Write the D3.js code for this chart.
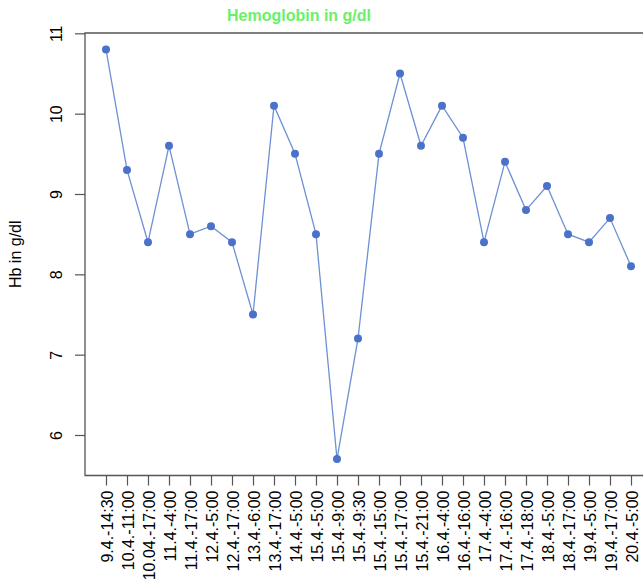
<!DOCTYPE html>
<html>
<head>
<meta charset="utf-8">
<script src="https://cdn.jsdelivr.net/npm/d3@7"></script>
<style>
  body { margin: 0; background: #fff; }
  svg { display: block; font-family: "Liberation Sans", Arial, sans-serif; }
</style>
</head>
<body>
<svg width="643" height="587"></svg>
<script>
var labels = ["9.4.-14:30", "10.4.-11:00", "10.04.-17:00", "11.4.-4:00", "11.4.-17:00",
	"12.4.-5:00", "12.4.-17:00", "13.4.-6:00", "13.4.-17:00", "14.4.-5:00",
	"15.4.-5:00", "15.4.-9:00", "15.4.-9:30", "15.4.-15:00", "15.4.-17:00",
	"15.4.-21:00", "16.4.-4:00", "16.4.-16:00", "17.4.-4:00", "17.4.-16:00",
	"17.4.-18:00", "18.4.-5:00", "18.4.-17:00", "19.4.-5:00", "19.4.-17:00", "20.4.-5:00"];
var hb = [10.8, 9.3, 8.4, 9.6, 8.5, 8.6, 8.4, 7.5, 10.1, 9.5,
	8.5, 5.7, 7.2, 9.5, 10.5, 9.6, 10.1, 9.7, 8.4, 9.4,
	8.8, 9.1, 8.5, 8.4, 8.7, 8.1];
var yTicks = [6, 7, 8, 9, 10, 11];

var svg = d3.select("svg");
var m = { left: 85, right: 652, top: 33, bottom: 475.5 };

// R-style 4% padding on both axes
var n = hb.length;
var x = d3.scaleLinear().domain([1 - 0.04 * (n - 1), n + 0.04 * (n - 1)]).range([m.left, m.right]);
var ext = d3.extent(hb), pad = (ext[1] - ext[0]) * 0.04;
var y = d3.scaleLinear().domain([ext[0] - pad, ext[1] + pad]).range([m.bottom, m.top]);

var data = hb.map(function(v, i) { return { i: i + 1, v: v, label: labels[i] }; });

// frame (right side lies outside the window)
svg.append("path")
	.attr("d", "M" + m.right + "," + m.top + "H" + m.left + "V" + m.bottom + "H" + m.right)
	.attr("fill", "none")
	.attr("stroke", "#555")
	.attr("stroke-width", 1.3);

// y axis
var yAxis = svg.append("g").attr("transform", "translate(" + m.left + ",0)")
	.call(d3.axisLeft(y).tickValues(yTicks).tickSize(10).tickFormat(d3.format("d")));
yAxis.select(".domain").remove();
yAxis.selectAll(".tick line").attr("stroke", "#555").attr("stroke-width", 1.2);
yAxis.selectAll(".tick text")
	.attr("font-size", 16).attr("fill", "#000")
	.attr("text-anchor", "middle")
	.attr("x", 0).attr("y", 0).attr("dy", 0)
	.attr("transform", "translate(-23,0) rotate(-90)");

// x axis
var xAxis = svg.append("g").attr("transform", "translate(0," + m.bottom + ")")
	.call(d3.axisBottom(x).tickValues(d3.range(1, n + 1)).tickSize(10).tickFormat(function(d) { return labels[d - 1]; }));
xAxis.select(".domain").remove();
xAxis.selectAll(".tick line").attr("stroke", "#555").attr("stroke-width", 1.2);
xAxis.selectAll(".tick text")
	.attr("font-size", 16).attr("fill", "#000")
	.attr("text-anchor", "end")
	.attr("x", 0).attr("y", 0).attr("dy", 0)
	.attr("transform", "translate(6,15) rotate(-90)");

// y label
svg.append("text")
	.attr("transform", "translate(21," + ((m.top + m.bottom) / 2) + ") rotate(-90)")
	.attr("text-anchor", "middle")
	.attr("font-size", 16)
	.text("Hb in g/dl");

// title
svg.append("text")
	.attr("x", 299).attr("y", 21)
	.attr("text-anchor", "middle")
	.attr("font-size", 16)
	.attr("font-weight", "bold")
	.attr("fill", "#6bef6b")
	.text("Hemoglobin in g/dl");

// line + points
var line = d3.line().x(function(d) { return x(d.i); }).y(function(d) { return y(d.v); });
svg.append("path")
	.datum(data)
	.attr("d", line)
	.attr("fill", "none")
	.attr("stroke", "#6f90d4")
	.attr("stroke-width", 1.3);

svg.selectAll("circle.pt")
	.data(data)
	.enter().append("circle")
	.attr("class", "pt")
	.attr("cx", function(d) { return x(d.i); })
	.attr("cy", function(d) { return y(d.v); })
	.attr("r", 4)
	.attr("fill", "#4a72c8");
</script>
</body>
</html>
